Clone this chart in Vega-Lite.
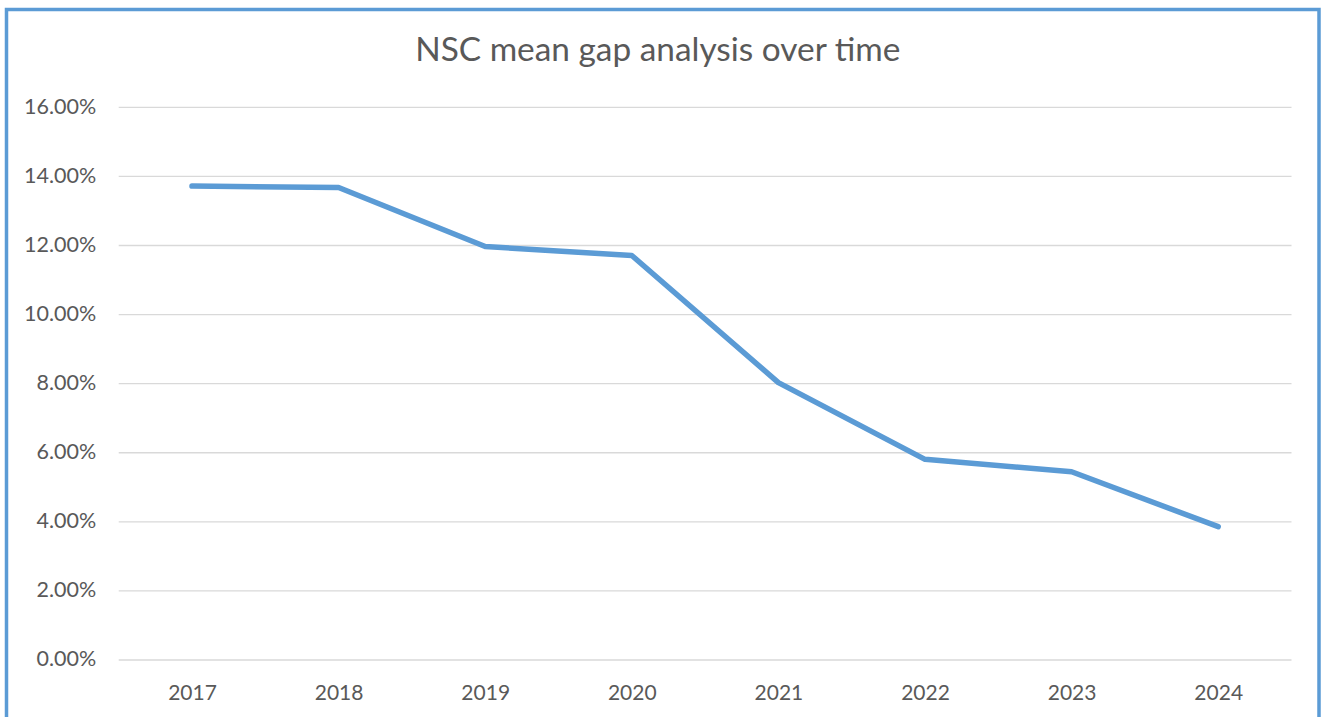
{
  "$schema": "https://vega.github.io/schema/vega-lite/v6.json",
  "width": 1312.5,
  "height": 711,
  "autosize": {"type": "none"},
  "padding": {"left": 6.5, "top": 9.5, "right": 3, "bottom": -3.5},
  "background": "white",
  "view": {"stroke": "#5b9bd5", "strokeWidth": 3.5},
  "title": {
    "text": "NSC mean gap analysis over time",
    "frame": "group",
    "anchor": "middle",
    "orient": "top",
    "baseline": "alphabetic",
    "offset": -85,
    "dx": -5,
    "font": "Lato",
    "fontSize": 33.4,
    "fontWeight": "normal",
    "color": "#595959"
  },
  "datasets": {
    "gap": [
      {"year": 2017, "gap": 0.1372},
      {"year": 2018, "gap": 0.1368},
      {"year": 2019, "gap": 0.1197},
      {"year": 2020, "gap": 0.1171},
      {"year": 2021, "gap": 0.0803},
      {"year": 2022, "gap": 0.0581},
      {"year": 2023, "gap": 0.0545},
      {"year": 2024, "gap": 0.0386}
    ],
    "grid": [
      {"v": 0}, {"v": 0.02}, {"v": 0.04}, {"v": 0.06}, {"v": 0.08},
      {"v": 0.10}, {"v": 0.12}, {"v": 0.14}, {"v": 0.16}
    ]
  },
  "layer": [
    {
      "data": {"name": "grid"},
      "mark": {"type": "rule", "color": "#d9d9d9", "strokeWidth": 1.3},
      "encoding": {
        "x": {
          "datum": 2016.5, "type": "quantitative",
          "scale": {"domain": [2015.73465, 2024.68759], "nice": false, "zero": false},
          "axis": {
            "orient": "bottom", "values": [2017, 2018, 2019, 2020, 2021, 2022, 2023, 2024],
            "format": "d", "title": null, "grid": false, "domain": false, "ticks": false,
            "labelPadding": 0, "offset": -37.7, "labelFlush": false, "labelOverlap": false,
            "labelFont": "Lato", "labelFontSize": 21, "labelColor": "#595959"
          }
        },
        "x2": {"datum": 2024.5},
        "y": {
          "field": "v", "type": "quantitative",
          "scale": {"domain": [-0.017516, 0.18833], "nice": false, "zero": false},
          "axis": {
            "orient": "left", "values": [0, 0.02, 0.04, 0.06, 0.08, 0.1, 0.12, 0.14, 0.16],
            "format": ".2%", "title": null, "grid": false, "domain": false, "ticks": false,
            "labelPadding": 0, "offset": -89.2, "labelFlush": false, "labelOverlap": false,
            "labelFont": "Lato", "labelFontSize": 21.5, "labelColor": "#595959"
          }
        }
      }
    },
    {
      "data": {"name": "gap"},
      "mark": {"type": "line", "color": "#5b9bd5", "strokeWidth": 5.5, "strokeCap": "round", "strokeJoin": "round"},
      "encoding": {
        "x": {"field": "year", "type": "quantitative"},
        "y": {"field": "gap", "type": "quantitative"}
      }
    }
  ]
}
